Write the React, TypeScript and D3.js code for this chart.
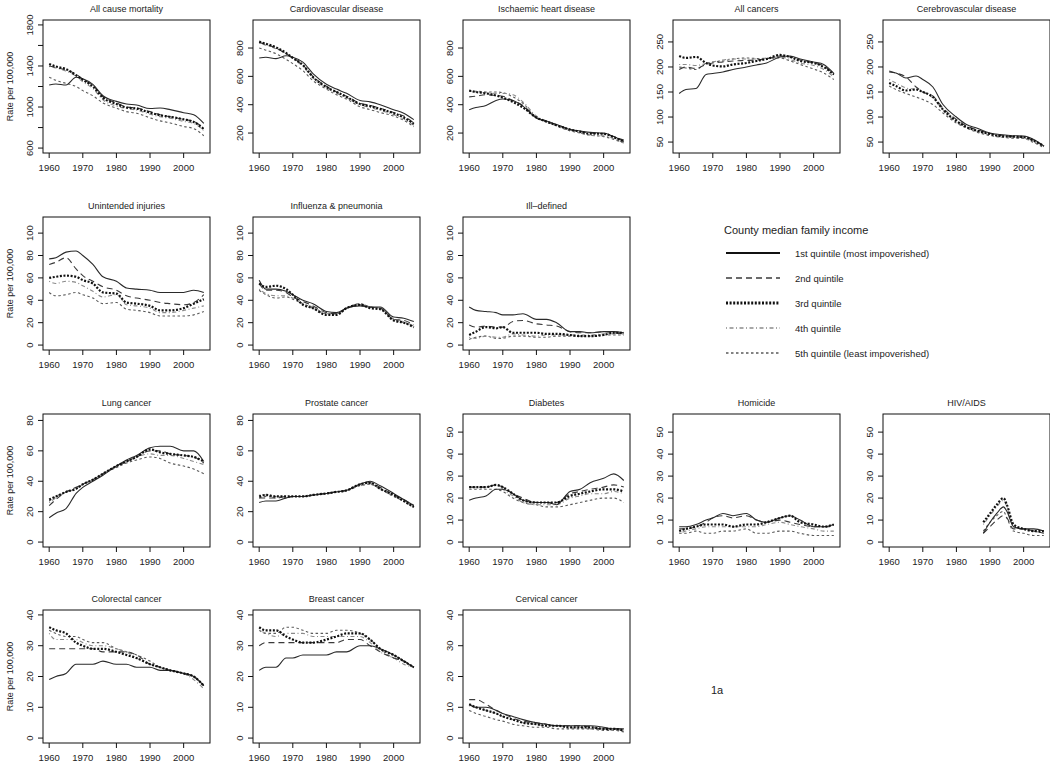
import React from "react";
import * as d3 from "d3";

// ---------- data ----------
const YEARS = [1960, 1962, 1965, 1968, 1970, 1973, 1976, 1980, 1983, 1986, 1990, 1993, 1996, 2000, 2003, 2006];
const HIV_YEARS = [1988, 1990, 1992, 1994, 1995, 1997, 2000, 2003, 2006];
const X_TICKS = [1960, 1970, 1980, 1990, 2000];
const QUINTILE_LABELS = [
  "1st quintile (most impoverished)",
  "2nd quintile",
  "3rd quintile",
  "4th quintile",
  "5th quintile (least impoverished)",
];

const ALL_CAUSE = [
  [1215, 1225, 1215, 1290, 1275, 1220, 1110, 1055, 1030, 1020, 985, 990, 975, 945, 925, 840],
  [1400, 1385, 1360, 1320, 1270, 1210, 1100, 1040, 1000, 990, 955, 925, 905, 880, 860, 790],
  [1420, 1395, 1370, 1310, 1265, 1200, 1090, 1030, 995, 985, 945, 920, 905, 880, 855, 785],
  [1395, 1380, 1350, 1300, 1245, 1180, 1070, 1010, 985, 970, 930, 905, 890, 860, 840, 770],
  [1290, 1260, 1230, 1200, 1160, 1110, 1040, 990, 955, 940, 895, 865, 845, 810, 790, 720],
];
const CARDIO = [
  [730, 735, 725, 745, 735, 700, 620, 545, 510, 480, 430, 420, 400, 365, 340, 295],
  [840, 825, 800, 760, 730, 680, 600, 530, 490, 460, 410, 395, 375, 345, 320, 270],
  [845, 830, 805, 765, 730, 680, 595, 525, 490, 455, 405, 390, 370, 340, 310, 265],
  [835, 820, 795, 760, 725, 670, 590, 520, 480, 450, 400, 380, 360, 330, 300, 255],
  [800, 785, 760, 720, 690, 640, 570, 510, 470, 440, 385, 365, 345, 320, 290, 245],
];
const ISCHAEMIC = [
  [365, 380, 395, 430, 440, 430, 390, 305, 285, 260, 225, 215, 205, 200, 175, 140],
  [455, 460, 470, 465, 460, 430, 395, 310, 280, 260, 225, 210, 200, 195, 175, 150],
  [500, 490, 480, 465, 450, 420, 380, 310, 280, 255, 225, 210, 195, 195, 170, 140],
  [495, 490, 485, 480, 480, 470, 420, 320, 285, 255, 220, 200, 185, 180, 160, 130],
  [495, 495, 490, 490, 485, 455, 410, 310, 280, 250, 215, 200, 185, 175, 155, 130],
];
const ALL_CANCERS = [
  [147, 155, 157, 185, 187, 190, 195, 200, 204, 208, 220, 222, 216, 210, 205, 187],
  [195, 200, 197, 205, 208, 210, 212, 213, 214, 216, 222, 220, 214, 208, 202, 185],
  [222, 218, 220, 208, 203, 201, 205, 208, 212, 216, 224, 220, 212, 208, 200, 185],
  [205, 205, 203, 207, 210, 214, 216, 216, 216, 218, 220, 215, 208, 203, 195, 180],
  [200, 198, 195, 207, 210, 212, 216, 218, 217, 217, 218, 212, 205, 196, 188, 175],
];
const CEREBRO = [
  [190, 188, 178, 182, 175, 160, 125, 100, 85, 78, 68, 65, 63, 62, 55, 42],
  [192, 188, 180, 160, 150, 142, 118, 95, 82, 75, 67, 63, 61, 60, 53, 42],
  [168, 162, 153, 155, 150, 140, 115, 92, 80, 73, 66, 62, 61, 60, 53, 42],
  [175, 168, 158, 155, 150, 138, 115, 90, 80, 72, 65, 62, 60, 58, 50, 40],
  [162, 155, 147, 140, 135, 125, 108, 88, 78, 70, 63, 60, 58, 57, 49, 39],
];
const INJURIES = [
  [77, 78, 83, 84, 80, 72, 61, 57, 51, 50, 49, 47, 47, 47, 49, 47],
  [72, 74, 78, 68, 62, 57, 52, 49, 44, 42, 40, 38, 37, 36, 38, 45],
  [60, 61, 62, 61, 58, 55, 47, 46, 38, 37, 35, 31, 31, 33, 37, 41],
  [57, 55, 57, 56, 53, 48, 43, 45, 36, 35, 33, 29, 29, 31, 33, 35],
  [47, 44, 45, 47, 45, 42, 37, 38, 32, 31, 29, 26, 26, 26, 27, 30],
];
const INFLUENZA = [
  [58, 50, 50, 48, 45, 40, 37, 30, 29, 33, 35, 34, 34, 25, 24, 21],
  [55, 49, 49, 47, 43, 39, 35, 29, 28, 33, 36, 34, 33, 23, 22, 18],
  [55, 52, 53, 50, 45, 36, 33, 27, 27, 33, 36, 33, 32, 22, 20, 16],
  [50, 46, 44, 44, 42, 37, 34, 28, 28, 33, 37, 34, 33, 23, 21, 17],
  [49, 45, 42, 43, 41, 37, 33, 28, 28, 33, 37, 34, 33, 23, 20, 17],
];
const ILL_DEFINED = [
  [34, 31, 30, 29, 27, 27, 28, 23, 23, 20, 12, 12, 11, 12, 12, 11],
  [18, 16, 17, 16, 16, 21, 22, 19, 18, 17, 12, 11, 11, 12, 11, 10],
  [9, 12, 16, 15, 16, 11, 11, 11, 10, 10, 9, 8, 8, 9, 11, 11],
  [7, 6, 8, 7, 7, 10, 9, 8, 9, 9, 9, 9, 9, 10, 10, 10],
  [5, 7, 8, 6, 6, 8, 8, 7, 7, 8, 8, 8, 8, 9, 9, 9],
];
const LUNG = [
  [16, 19, 22, 32, 36, 40, 44, 50, 54, 57, 62, 63, 63, 60, 60, 53],
  [24, 28, 33, 36, 38, 41, 45, 50, 53, 56, 60, 60, 58, 57, 56, 52],
  [28, 30, 33, 35, 38, 41, 45, 50, 53, 56, 61, 59, 58, 57, 56, 53],
  [26, 29, 33, 35, 38, 41, 45, 50, 53, 56, 58, 57, 57, 55, 53, 51],
  [27, 30, 33, 35, 38, 41, 45, 49, 52, 54, 56, 55, 52, 50, 48, 45],
];
const PROSTATE = [
  [26, 27, 27, 29, 30, 30, 31, 32, 33, 34, 38, 40, 37, 32, 28, 24],
  [29, 29, 29, 30, 30, 30, 31, 32, 33, 34, 38, 39, 36, 31, 28, 24],
  [30, 31, 30, 30, 30, 30, 31, 32, 33, 34, 38, 39, 35, 31, 27, 23],
  [31, 31, 29, 29, 30, 30, 31, 32, 33, 34, 37, 38, 35, 30, 27, 23],
  [29, 30, 30, 29, 30, 30, 31, 32, 33, 34, 37, 38, 35, 30, 27, 23],
];
const DIABETES = [
  [19, 20, 21, 24, 24, 22, 19, 18, 18, 17, 23, 24, 27, 29, 31, 28],
  [25, 25, 25, 26, 25, 22, 20, 18, 18, 18, 22, 23, 24, 25, 26, 25],
  [25, 25, 25, 26, 25, 22, 19, 18, 18, 18, 21, 22, 23, 24, 24, 23],
  [25, 25, 25, 26, 24, 21, 18, 17, 17, 17, 20, 21, 22, 22, 23, 22],
  [24, 24, 24, 24, 23, 20, 18, 17, 16, 16, 17, 18, 19, 20, 20, 18],
];
const HOMICIDE = [
  [7, 7, 8, 10, 11, 13, 12, 13, 10, 9, 11, 12, 10, 7, 7, 8],
  [6, 6, 7, 9, 11, 12, 11, 12, 10, 9, 10, 9, 8, 7, 7, 7],
  [5, 6, 7, 8, 8, 8, 7, 8, 8, 9, 11, 12, 9, 8, 7, 8],
  [4, 5, 6, 7, 7, 7, 7, 7, 7, 8, 9, 8, 7, 6, 5, 5],
  [4, 4, 5, 4, 4, 5, 5, 6, 4, 4, 5, 5, 4, 3, 3, 3],
];
const HIV = [
  [4, 9, 13, 16, 14, 7, 6, 6, 5],
  [4, 7, 10, 12, 11, 6, 6, 5, 4],
  [9, 13, 17, 20, 17, 8, 6, 5, 5],
  [8, 12, 16, 19, 16, 7, 6, 5, 4],
  [5, 9, 12, 14, 11, 5, 4, 3, 3],
];
const COLORECTAL = [
  [19, 20, 21, 24, 24, 24, 25, 24, 24, 23, 23, 22, 22, 21, 20, 17],
  [29, 29, 29, 29, 29, 29, 28, 28, 28, 27, 24, 23, 22, 21, 20, 17],
  [36, 35, 34, 31, 30, 29, 29, 28, 27, 26, 24, 23, 22, 21, 20, 17],
  [34, 32, 32, 32, 31, 30, 30, 29, 28, 26, 24, 23, 22, 21, 19, 16],
  [35, 34, 33, 33, 32, 31, 31, 29, 28, 27, 25, 23, 22, 21, 20, 17],
];
const BREAST = [
  [22, 23, 23, 26, 26, 27, 27, 27, 28, 28, 30, 30, 29, 27, 25, 23],
  [30, 31, 31, 31, 31, 31, 31, 31, 31, 32, 32, 30, 28, 26, 25, 23],
  [36, 35, 35, 33, 32, 31, 31, 32, 33, 34, 34, 32, 29, 27, 25, 23],
  [35, 34, 33, 34, 34, 34, 33, 33, 33, 33, 33, 31, 28, 26, 24, 23],
  [35, 34, 34, 36, 36, 35, 34, 34, 35, 35, 34, 32, 29, 26, 25, 23],
];
const CERVICAL = [
  [11, 10, 10, 9, 8, 7, 6, 5, 4.5, 4, 4, 4, 4, 3.5, 3, 3],
  [12.5, 12.5, 11, 9, 8, 6.5, 5.5, 5, 4.5, 4, 4, 4, 3.5, 3, 3, 3],
  [11, 10, 9, 8, 7, 6, 5, 4.5, 4, 4, 3.5, 3.5, 3.5, 3, 3, 2.5],
  [10.5, 10, 9, 8, 7, 6, 5, 4.5, 4, 4, 3.5, 3.5, 3, 3, 2.5, 2.5],
  [9, 8, 7, 6, 5.5, 4.5, 4, 3.5, 3.5, 3, 3, 3, 3, 2.5, 2.5, 2],
];

// y limits and ticks
const TICKS_ALLCAUSE = [600, 800, 1000, 1200, 1400, 1600, 1800];
const LABELS_ALLCAUSE = [600, 1000, 1400, 1800];
const TICKS_CARDIO = [200, 400, 600, 800];
const TICKS_CANCER = [50, 100, 150, 200, 250];
const TICKS_100 = [0, 20, 40, 60, 80, 100];
const TICKS_80 = [0, 20, 40, 60, 80];
const TICKS_50 = [0, 10, 20, 30, 40, 50];
const TICKS_40 = [0, 10, 20, 30, 40];

const PANELS = [
  { title: "All cause mortality", data: ALL_CAUSE, years: YEARS, ylim: [600, 1800], ticks: TICKS_ALLCAUSE, labels: LABELS_ALLCAUSE },
  { title: "Cardiovascular disease", data: CARDIO, years: YEARS, ylim: [94, 963], ticks: TICKS_CARDIO, labels: TICKS_CARDIO },
  { title: "Ischaemic heart disease", data: ISCHAEMIC, years: YEARS, ylim: [94, 963], ticks: TICKS_CARDIO, labels: TICKS_CARDIO },
  { title: "All cancers", data: ALL_CANCERS, years: YEARS, ylim: [38, 284], ticks: TICKS_CANCER, labels: TICKS_CANCER },
  { title: "Cerebrovascular disease", data: CEREBRO, years: YEARS, ylim: [38, 284], ticks: TICKS_CANCER, labels: TICKS_CANCER },
  { title: "Unintended injuries", data: INJURIES, years: YEARS, ylim: [0, 110], ticks: TICKS_100, labels: TICKS_100 },
  { title: "Influenza & pneumonia", data: INFLUENZA, years: YEARS, ylim: [0, 110], ticks: TICKS_100, labels: TICKS_100 },
  { title: "Ill\u2013defined", data: ILL_DEFINED, years: YEARS, ylim: [0, 110], ticks: TICKS_100, labels: TICKS_100 },
  { title: "Lung cancer", data: LUNG, years: YEARS, ylim: [0, 81], ticks: TICKS_80, labels: TICKS_80 },
  { title: "Prostate cancer", data: PROSTATE, years: YEARS, ylim: [0, 81], ticks: TICKS_80, labels: TICKS_80 },
  { title: "Diabetes", data: DIABETES, years: YEARS, ylim: [0, 56], ticks: TICKS_50, labels: TICKS_50 },
  { title: "Homicide", data: HOMICIDE, years: YEARS, ylim: [0, 56], ticks: TICKS_50, labels: TICKS_50 },
  { title: "HIV/AIDS", data: HIV, years: HIV_YEARS, ylim: [0, 56], ticks: TICKS_50, labels: TICKS_50 },
  { title: "Colorectal cancer", data: COLORECTAL, years: YEARS, ylim: [0, 40], ticks: TICKS_40, labels: TICKS_40 },
  { title: "Breast cancer", data: BREAST, years: YEARS, ylim: [0, 40], ticks: TICKS_40, labels: TICKS_40 },
  { title: "Cervical cancer", data: CERVICAL, years: YEARS, ylim: [0, 40], ticks: TICKS_40, labels: TICKS_40 },
];

// grid positions [row, col] for each panel
const GRID = [
  [0, 0], [0, 1], [0, 2], [0, 3], [0, 4],
  [1, 0], [1, 1], [1, 2],
  [2, 0], [2, 1], [2, 2], [2, 3], [2, 4],
  [3, 0], [3, 1], [3, 2],
];

// ---------- layout & styles ----------
const W = 1050;
const H = 768;
const COL_X0 = 43;
const COL_STEP = 210;
const ROW_TOPS = [20, 217, 414, 610];
const PW = 167;
const PH = 133;
const FONT = "'Liberation Sans', Arial, Helvetica, sans-serif";

const STYLES = [
  { stroke: "#2a2a2a", width: 1.1, dash: "none" },
  { stroke: "#3a3a3a", width: 1.1, dash: "6,4" },
  { stroke: "#111", width: 2.2, dash: "2,1.6" },
  { stroke: "#8a8a8a", width: 1.1, dash: "1,2.5,4,2.5" },
  { stroke: "#5a5a5a", width: 1.1, dash: "2.5,2.5" },
];
const DRAW_ORDER = [4, 3, 1, 0, 2];

function Panel({ p, row, col }: any) {
  const left = COL_X0 + col * COL_STEP;
  const top = ROW_TOPS[row];
  const xr = 2006 - 1960;
  const x = d3.scaleLinear().domain([1960 - 0.04 * xr, 2006 + 0.04 * xr]).range([left, left + PW]);
  const yr = p.ylim[1] - p.ylim[0];
  const y = d3
    .scaleLinear()
    .domain([p.ylim[0] - 0.04 * yr, p.ylim[1] + 0.04 * yr])
    .range([top + PH, top]);
  const line = d3
    .line<[number, number]>()
    .x((d) => x(d[0]))
    .y((d) => y(d[1]))
    .curve(d3.curveMonotoneX);
  const bottom = top + PH;
  return (
    <g>
      <text x={left + PW / 2} y={top - 8} textAnchor="middle" fontSize={9} fill="#222" fontFamily={FONT}>
        {p.title}
      </text>
      {DRAW_ORDER.map((qi) => {
        const s = STYLES[qi];
        const pts = p.years.map((yy: number, i: number) => [yy, p.data[qi][i]] as [number, number]);
        return (
          <path
            key={qi}
            d={line(pts) || ""}
            fill="none"
            stroke={s.stroke}
            strokeWidth={s.width}
            strokeDasharray={s.dash}
            strokeLinejoin="round"
          />
        );
      })}
      <rect x={left} y={top} width={PW} height={PH} fill="none" stroke="#111" strokeWidth={1} />
      {/* x axis */}
      {X_TICKS.map((t) => (
        <g key={"x" + t}>
          <line x1={x(t)} x2={x(t)} y1={bottom} y2={bottom + 5} stroke="#111" strokeWidth={1} />
          <text x={x(t)} y={bottom + 18} textAnchor="middle" fontSize={9.5} fill="#222" fontFamily={FONT}>
            {t}
          </text>
        </g>
      ))}
      {/* y axis */}
      {p.ticks.map((t: number) => (
        <line key={"yt" + t} x1={left - 5} x2={left} y1={y(t)} y2={y(t)} stroke="#111" strokeWidth={1} />
      ))}
      {p.labels.map((t: number) => (
        <text
          key={"yl" + t}
          transform={`translate(${left - 10},${y(t)}) rotate(-90)`}
          textAnchor="middle"
          fontSize={9.5}
          fill="#222"
          fontFamily={FONT}
        >
          {t}
        </text>
      ))}
      {col === 0 && (
        <text
          transform={`translate(13,${top + PH / 2}) rotate(-90)`}
          textAnchor="middle"
          fontSize={9}
          fill="#222"
          fontFamily={FONT}
        >
          Rate per 100,000
        </text>
      )}
    </g>
  );
}

function Legend() {
  const lx = 724;
  const ly = 230;
  const step = 25;
  return (
    <g fontFamily={FONT}>
      <text x={lx} y={ly + 4} fontSize={11} fill="#222">
        County median family income
      </text>
      {QUINTILE_LABELS.map((lab, i) => {
        const s = STYLES[i];
        const yy = ly + 23 + i * step;
        return (
          <g key={lab}>
            <line
              x1={lx + 2}
              x2={lx + 56}
              y1={yy}
              y2={yy}
              stroke={i === 0 ? "#111" : s.stroke}
              strokeWidth={i === 0 ? 1.8 : s.width + 0.6}
              strokeDasharray={s.dash}
            />
            <text x={lx + 71} y={yy + 3.5} fontSize={9.5} fill="#222">
              {lab}
            </text>
          </g>
        );
      })}
    </g>
  );
}

export default function App() {
  return (
    <svg
      width={W}
      height={H}
      viewBox={`0 0 ${W} ${H}`}
      style={{ position: "absolute", left: 0, top: 0, background: "#fff", display: "block" }}
    >
      <rect x={0} y={0} width={W} height={H} fill="#fff" />
      {PANELS.map((p, i) => (
        <Panel key={p.title} p={p} row={GRID[i][0]} col={GRID[i][1]} />
      ))}
      <Legend />
      <text x={711} y={694} fontSize={11} fill="#222" fontFamily={FONT}>
        1a
      </text>
    </svg>
  );
}
